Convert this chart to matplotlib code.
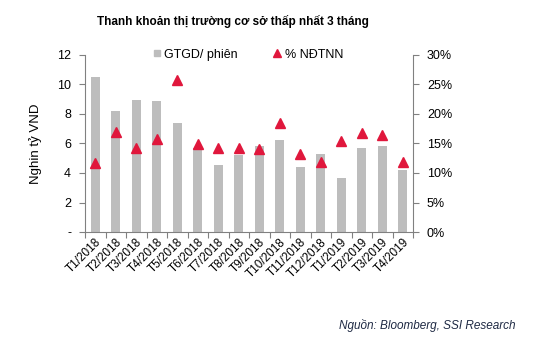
import matplotlib.pyplot as plt
import numpy as np

plt.rcParams['font.family'] = ['Liberation Sans', 'DejaVu Sans']

months = ['T1/2018', 'T2/2018', 'T3/2018', 'T4/2018', 'T5/2018', 'T6/2018',
          'T7/2018', 'T8/2018', 'T9/2018', 'T10/2018', 'T11/2018', 'T12/2018',
          'T1/2019', 'T2/2019', 'T3/2019', 'T4/2019']
gtgd = [10.5, 8.2, 8.95, 8.9, 7.4, 5.7, 4.55, 5.2, 5.8, 6.25,
        4.4, 5.3, 3.65, 5.7, 5.85, 4.2]          # nghin ty VND / phien
ndtnn = [11.7, 17.0, 14.2, 15.8, 25.8, 14.9, 14.2, 14.2, 14.0, 18.4,
         13.2, 11.9, 15.4, 16.7, 16.4, 11.9]     # %

bar_col = '#bdbdbd'
tri_col = '#e0173c'
spine_col = '#808080'

fig = plt.figure(figsize=(5.36, 3.38), dpi=100)
ax = fig.add_axes([0.1586, 0.3136, 0.612, 0.5237])
ax2 = ax.twinx()

x = np.arange(len(months))
ax.bar(x, gtgd, width=0.42, color=bar_col, zorder=2)
ax2.plot(x, ndtnn, linestyle='none', marker='^', markersize=7.5,
         color=tri_col, zorder=3)

ax.set_xlim(-0.5, len(months) - 0.5)
ax.set_ylim(0, 12)
ax2.set_ylim(0, 30)
ax.set_yticks(range(0, 13, 2))
ax.set_yticklabels(['-'] + [str(v) for v in range(2, 13, 2)])
ax2.set_yticks(range(0, 31, 5))
ax2.set_yticklabels([f'{v}%' for v in range(0, 31, 5)])

# category boundaries as x ticks, labels under each bar
ax.set_xticks(np.arange(len(months) + 1) - 0.5)
ax.set_xticklabels([])
ax.set_xticks(x, minor=True)
ax.set_xticklabels(months, minor=True, rotation=45, ha='right',
                   rotation_mode='anchor', fontsize=8.5)
ax.tick_params(axis='x', which='minor', length=0, pad=3)
ax.tick_params(axis='x', which='major', length=4, color=spine_col)

for a in (ax, ax2):
    a.spines['top'].set_visible(False)
    for s in ('left', 'right', 'bottom'):
        a.spines[s].set_color(spine_col)
    a.tick_params(axis='y', length=4, color=spine_col, labelsize=9, pad=6)
ax.spines['right'].set_visible(False)
ax2.spines['left'].set_visible(False)
ax2.spines['bottom'].set_visible(False)

ax.set_ylabel('Nghin tỷ VND', fontsize=9.5, labelpad=11)

h1 = plt.Line2D([], [], linestyle='none', marker='s', markersize=5, color=bar_col)
h2 = plt.Line2D([], [], linestyle='none', marker='^', markersize=6, color=tri_col)
fig.legend([h1, h2], ['GTGD/ phiên', '% NĐTNN'], ncol=2, frameon=False,
           loc='center left', bbox_to_anchor=(0.281, 0.838), fontsize=9,
           handletextpad=0.1, columnspacing=2.65, handlelength=1,
           borderaxespad=0, borderpad=0)

fig.text(0.435, 0.935, 'Thanh khoản thị trường cơ sở thấp nhất 3 tháng',
         ha='center', va='center', fontsize=8.5, fontweight='bold')
fig.text(0.962, 0.038, 'Nguồn: Bloomberg, SSI Research', ha='right',
         va='center', fontsize=8.5, style='italic', color='#1f2a44')

fig.savefig('out.png', dpi=100)
